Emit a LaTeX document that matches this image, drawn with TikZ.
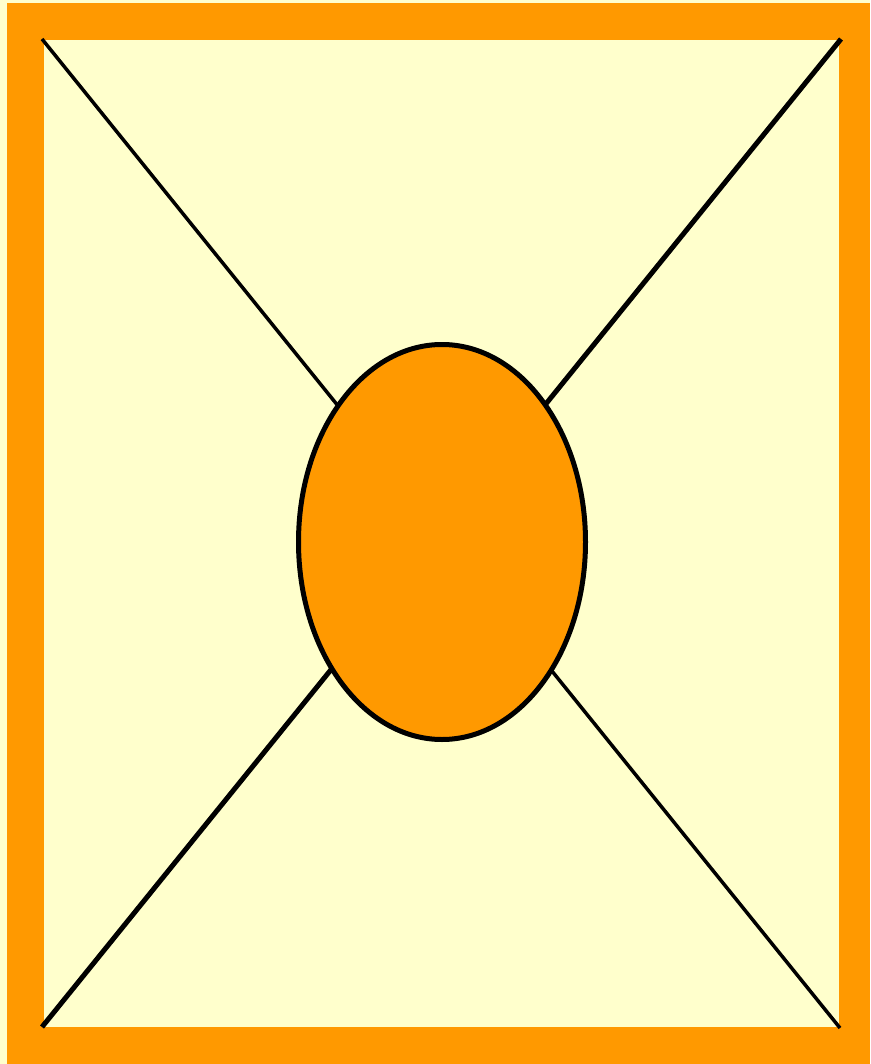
\documentclass[tikz,border=0pt]{standalone}
\usepackage{tikz}
\usetikzlibrary{shapes.geometric}
\definecolor{frameorange}{HTML}{FF9900}
\definecolor{paleyellow}{HTML}{FFFFCC}
\tikzset{
  thinline/.style={line width=3.5pt, draw=black},
  thickline/.style={line width=5pt, draw=black},
  hub/.style={ellipse, draw=black, line width=5pt, fill=frameorange,
    minimum width=287pt, minimum height=395pt, inner sep=0pt}
}
\begin{document}
\begin{tikzpicture}[x=1pt,y=-1pt]
\useasboundingbox (0,0) rectangle (870,1064);
\fill[paleyellow] (0,0) rectangle (870,1064);
\fill[frameorange] (7,3) rectangle (870,1064);
\fill[paleyellow] (44,40) rectangle (839,1027);
\coordinate (tl) at (42,39);
\coordinate (tr) at (841,39);
\coordinate (bl) at (42,1027);
\coordinate (br) at (840,1028);
\draw[thinline] (tl) -- (br);
\draw[thickline] (tr) -- (bl);
\node[hub] (center) at (442,542) {};
\end{tikzpicture}
\end{document}
